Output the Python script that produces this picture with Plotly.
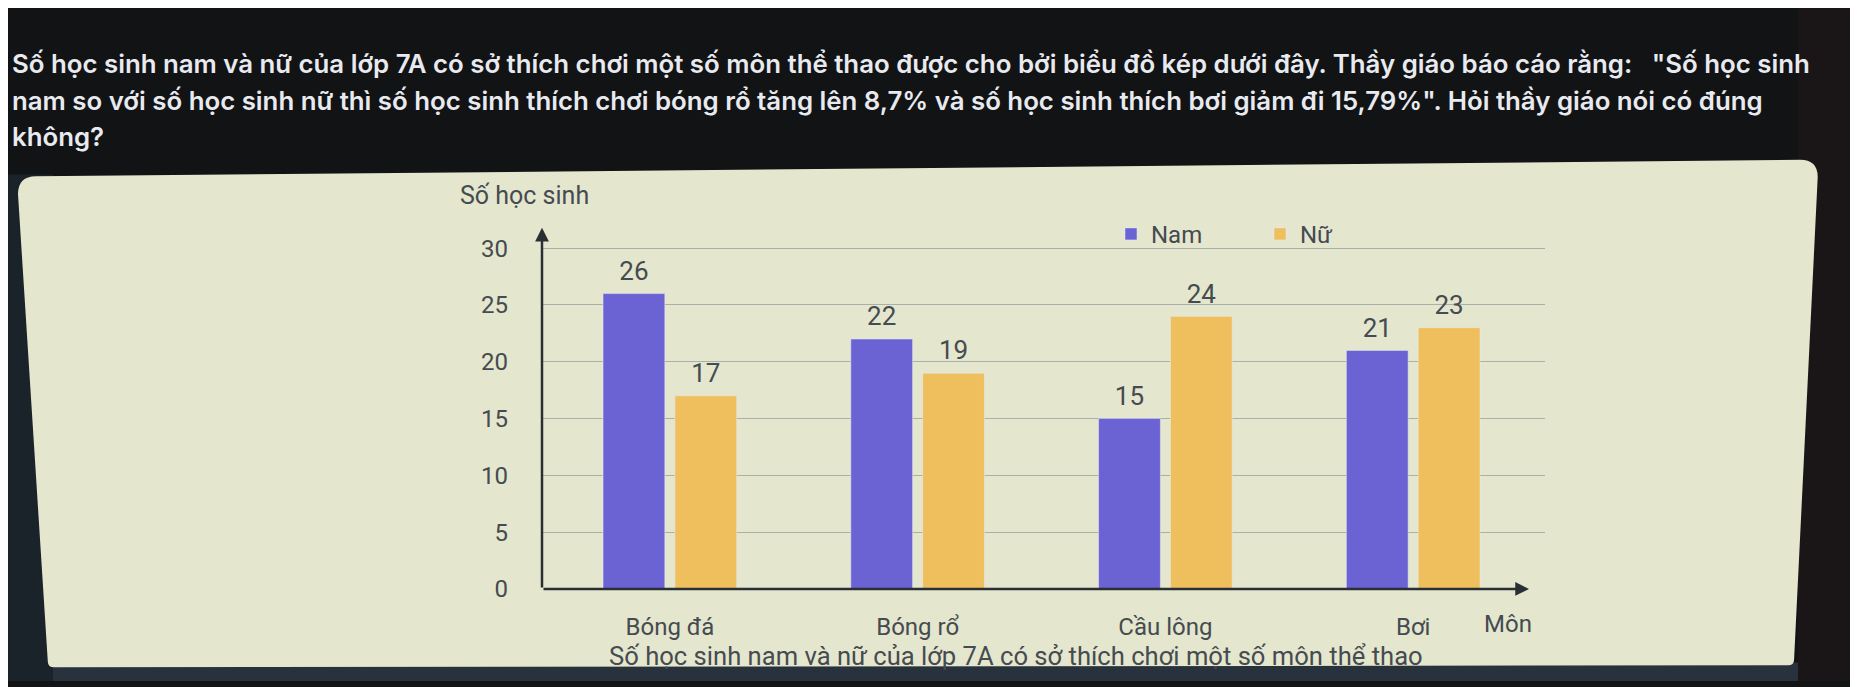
import plotly.graph_objects as go

W, H = 1858, 687

# data
mon_hoc = ["Bóng đá", "Bóng rổ", "Cầu lông", "Bơi"]
so_nam = [26, 22, 15, 21]
so_nu = [17, 19, 24, 23]
y_ticks = [0, 5, 10, 15, 20, 25, 30]

de_bai = [
    "Số học sinh nam và nữ của lớp 7A có sở thích chơi một số môn thể thao được cho bởi biểu đồ kép dưới đây. Thầy giáo báo cáo rằng:   \"Số học sinh",
    "nam so với số học sinh nữ thì số học sinh thích chơi bóng rổ tăng lên 8,7% và số học sinh thích bơi giảm đi 15,79%\". Hỏi thầy giáo nói có đúng",
    "không?",
]
chu_thich = "Số học sinh nam và nữ của lớp 7A có sở thích chơi một số môn thể thao"

nam_color = "#6b63d3"
nu_color = "#efbf5e"
panel_color = "#e4e6ce"
text_color = "#454b50"
axis_color = "#2a2f35"
grid_color = "#a9b0a9"


def px(x, y):
    # pixel position -> paper coordinates
    return x / W, 1 - y / H


def panel_path():
    tl, tr, br, bl = (10, 172), (1810, 155), (1786, 671), (40, 673)
    r, rb = 18, 6
    pts = [
        ("M", (tl[0] + r, tl[1] - 0.2)),
        ("L", (tr[0] - r, tr[1])),
        ("Q", tr, (tr[0] - 0.3, tr[1] + r)),
        ("L", (br[0] + 0.1, br[1] - rb)),
        ("Q", br, (br[0] - rb, br[1])),
        ("L", (bl[0] + rb, bl[1])),
        ("Q", bl, (bl[0] - 0.2, bl[1] - rb)),
        ("L", (tl[0], tl[1] + r)),
        ("Q", tl, (tl[0] + r, tl[1] - 0.2)),
    ]
    s = ""
    for p in pts:
        cmd = p[0]
        coords = " ".join("%.5f,%.5f" % px(*c) for c in p[1:])
        s += f"{cmd} {coords} "
    return s + "Z"


fig = go.Figure()

fig.add_trace(go.Bar(x=mon_hoc, y=so_nam, name="Nam", marker_color=nam_color,
                     offsetgroup="nam", hoverinfo="skip"))
fig.add_trace(go.Bar(x=mon_hoc, y=so_nu, name="Nữ", marker_color=nu_color,
                     offsetgroup="nu", hoverinfo="skip"))

# value labels, grouped the same way as the bars
for vals, grp in [(so_nam, "nam"), (so_nu, "nu")]:
    fig.add_trace(go.Scatter(x=mon_hoc, y=vals, mode="markers+text",
                             text=[str(v) for v in vals],
                             textposition="top center",
                             textfont=dict(size=26, color=text_color, family="Roboto"),
                             marker=dict(size=10, opacity=0),
                             offsetgroup=grp, showlegend=False,
                             hoverinfo="skip", cliponaxis=False))

x0_px, x1_px = 534, 1537
y0_px, ytop_px = 593, 222

fig.update_layout(
    width=W, height=H,
    margin=dict(l=0, r=0, t=0, b=0),
    paper_bgcolor="#111315",
    plot_bgcolor="rgba(0,0,0,0)",
    barmode="group", bargap=0.42, bargroupgap=0.14,
    scattermode="group", scattergap=0.42,
    font=dict(family="Roboto", size=24, color=text_color),
    showlegend=True,
    legend=dict(orientation="h", x=1103 / W, xanchor="left", y=1 - 231 / H, yanchor="middle",
                bgcolor="rgba(0,0,0,0)", font=dict(size=24, color=text_color),
                itemwidth=30, entrywidth=104, traceorder="normal"),
    xaxis=dict(domain=[x0_px / W, x1_px / W], range=[-0.516, 3.532],
               showgrid=False, showline=False, zeroline=False, ticks="",
               tickfont=dict(size=24, color=text_color), ticklabelstandoff=21,
               fixedrange=True),
    yaxis=dict(domain=[1 - y0_px / H, 1 - ytop_px / H], range=[0, 32],
               tickvals=y_ticks, showgrid=True, gridcolor=grid_color, gridwidth=1,
               showline=False, zeroline=False, ticks="",
               tickfont=dict(size=24, color=text_color), ticklabelstandoff=33,
               fixedrange=True),
)

shapes = [
    # dark strip below the screen panel
    dict(type="rect", xref="paper", yref="paper", x0=0, x1=1, y0=0, y1=1 - 668 / H,
         fillcolor="#28323c", line_width=0, layer="below"),
    dict(type="rect", xref="paper", yref="paper", x0=0, x1=45 / W, y0=0, y1=1 - 170 / H,
         fillcolor="#1b232a", line_width=0, layer="below"),
    dict(type="rect", xref="paper", yref="paper", x0=1790 / W, x1=1, y0=0, y1=1,
         fillcolor="#1a1618", line_width=0, layer="below"),
    dict(type="path", xref="paper", yref="paper", path=panel_path(),
         fillcolor=panel_color, line_width=0, layer="below"),
]
fig.update_layout(shapes=shapes)

ann = []
# problem statement above the chart
for i, line in enumerate(de_bai):
    xx, yy = px(2, 57 + 37 * i)
    ann.append(dict(text=line, xref="paper", yref="paper", x=xx, y=yy,
                    xanchor="left", yanchor="middle", showarrow=False,
                    font=dict(family="Inter", size=25.8, color="#e8eaef", weight=600)))


def label(text, x, y, size):
    xx, yy = px(x, y)
    return dict(text=text, xref="paper", yref="paper", x=xx, y=yy,
                xanchor="center", yanchor="middle", showarrow=False,
                font=dict(size=size, color=text_color))


ann.append(label("Số học sinh", 516, 191, 25))
ann.append(label("Môn", 1500, 629, 24))
ann.append(label(chu_thich, 1008, 661, 25.6))

# axes drawn as arrows
ann.append(dict(x=0, y=31.8, xref="x domain", yref="y", ax=0, ay=0, axref="x domain", ayref="y",
                text="", showarrow=True, arrowhead=2, arrowsize=1.1, arrowwidth=2.5,
                arrowcolor=axis_color, standoff=0, startstandoff=0))
ann.append(dict(x=(1521 - x0_px) / (x1_px - x0_px), y=0, xref="x domain", yref="y",
                ax=0, ay=0, axref="x domain", ayref="y",
                text="", showarrow=True, arrowhead=2, arrowsize=1.1, arrowwidth=2.5,
                arrowcolor=axis_color, standoff=0, startstandoff=0))
fig.update_layout(annotations=ann)

fig.write_html("out.html")
